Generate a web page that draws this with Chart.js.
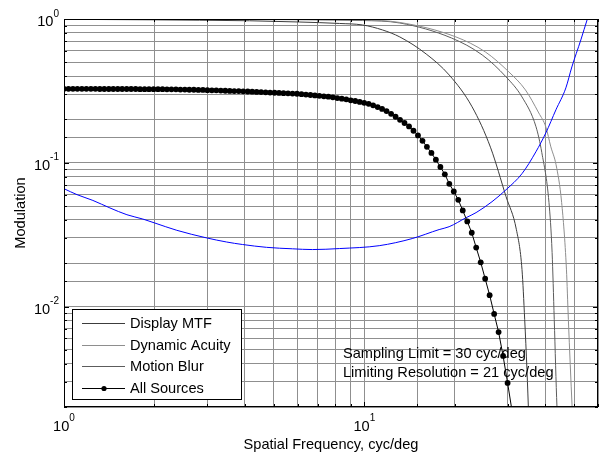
<!DOCTYPE html>
<html>
<head>
<meta charset="utf-8">
<script src="https://cdn.jsdelivr.net/npm/chart.js@4.4.1/dist/chart.umd.min.js"></script>
<style>
html, body { margin: 0; padding: 0; background: #fff; }
</style>
</head>
<body>
<canvas id="chart" width="604" height="454"></canvas>
<script>
// spatial frequencies (cyc/deg) and modulation
const allFreq = [1.000, 1.035, 1.071, 1.108, 1.147, 1.187, 1.229, 1.272, 1.316, 1.362,
  1.410, 1.459, 1.510, 1.562, 1.617, 1.673, 1.732, 1.792, 1.855, 1.919,
  1.987, 2.056, 2.128, 2.202, 2.279, 2.359, 2.441, 2.526, 2.614, 2.706,
  2.802, 2.901, 3.002, 3.107, 3.215, 3.328, 3.444, 3.564, 3.689, 3.818,
  3.952, 4.090, 4.233, 4.380, 4.533, 4.692, 4.855, 5.025, 5.201, 5.382,
  5.572, 5.767, 5.968, 6.177, 6.392, 6.616, 6.847, 7.086, 7.334, 7.590,
  7.856, 8.131, 8.415, 8.709, 9.013, 9.328, 9.654, 9.991, 10.34, 10.70,
  11.08, 11.46, 11.86, 12.28, 12.71, 13.15, 13.61, 14.09, 14.58, 15.09,
  15.62, 16.16, 16.73, 17.31, 17.92, 18.54, 19.19, 19.86, 20.55, 21.27,
  22.02, 22.79, 23.58, 24.41, 25.26, 26.14, 27.06, 28.00, 28.98, 30.00, 31.05];
const allSources = [0.327, 0.327, 0.327, 0.327, 0.327, 0.327, 0.327, 0.327, 0.326, 0.326,
  0.326, 0.326, 0.326, 0.326, 0.326, 0.326, 0.326, 0.325, 0.325, 0.325,
  0.325, 0.325, 0.325, 0.324, 0.324, 0.324, 0.323, 0.323, 0.322, 0.322,
  0.321, 0.321, 0.320, 0.319, 0.319, 0.318, 0.317, 0.316, 0.315, 0.315,
  0.314, 0.313, 0.312, 0.311, 0.310, 0.309, 0.308, 0.307, 0.306, 0.305,
  0.304, 0.303, 0.302, 0.300, 0.298, 0.296, 0.294, 0.292, 0.290, 0.288,
  0.285, 0.282, 0.279, 0.276, 0.272, 0.269, 0.265, 0.261, 0.257, 0.251,
  0.244, 0.237, 0.229, 0.219, 0.209, 0.199, 0.189, 0.179, 0.167, 0.155,
  0.142, 0.129, 0.117, 0.105, 0.0934, 0.0831, 0.0714, 0.0631, 0.0552, 0.0466,
  0.0391, 0.0326, 0.0257, 0.0203, 0.0156, 0.0120, 0.00888, 0.00664, 0.00453, 0.00294, 0.00187];

const displayFreq = [1, 1.99, 2.83, 4.15, 6.08, 8.26, 9.86, 11.5, 13.13, 16.07, 19.17, 22.85, 26.35, 29.64, 32.1, 33.5, 34.2, 34.8, 35.3];
const displayMtf = [0.995, 0.987, 0.981, 0.972, 0.953, 0.931, 0.909, 0.839, 0.750, 0.571, 0.408, 0.245, 0.127, 0.0582, 0.0342, 0.0181, 0.00815, 0.00364, 0.00164];

const acuityFreq = [1, 9.86, 13.13, 20.2, 25.3, 30.3, 34.4, 38.1, 40.2, 41.8, 43.5, 45.4, 47.1, 47.8, 49.2, 49.8];
const dynamicAcuity = [0.999, 0.984, 0.946, 0.750, 0.590, 0.428, 0.321, 0.222, 0.178, 0.129, 0.0969, 0.0530, 0.0182, 0.00815, 0.0020, 0.0012];

const blurFreq = [1, 4.15, 9.86, 13.13, 19.5, 24.7, 29.64, 33.5, 37.3, 39.0, 41.2, 42.2, 42.9, 43.8, 44.4];
const motionBlur = [0.999, 0.992, 0.976, 0.938, 0.738, 0.562, 0.396, 0.287, 0.178, 0.1176, 0.0529, 0.0238, 0.00814, 0.00201, 0.0012];

const thresholdFreq = [1.0, 1.105, 1.248, 1.422, 1.620, 1.830, 2.006, 2.374, 2.987, 3.479, 3.932, 4.726, 5.765, 6.718, 8.258, 11.21,
  14.44, 17.75, 19.16, 21.83, 23.56, 26.62, 29.64, 33.49, 37.27, 40.24, 43.45, 46.90, 49.1, 52.6, 55.3, 58.1];
const threshold = [0.0660, 0.0600, 0.0547, 0.0485, 0.0435, 0.0406, 0.0381, 0.0339, 0.0300, 0.0281, 0.0270, 0.0258, 0.0252, 0.0249, 0.0253, 0.0265,
  0.0297, 0.0343, 0.0359, 0.0415, 0.0450, 0.0536, 0.0649, 0.0839, 0.1192, 0.1616, 0.2334, 0.3318, 0.464, 0.715, 1.0, 1.35];

const xDecades = [1, 10];
const yDecades = [1, 0.1, 0.01];
const notes = ['Sampling Limit = 30 cyc/deg', 'Limiting Resolution = 21 cyc/deg'];

const FONT = '"Liberation Sans", Arial, sans-serif';
const COL_DISPLAY = '#3c3c3c';
const COL_ACUITY = '#8e8e8e';
const COL_BLUR = '#5c5c5c';

function pts(xs, ys) {
  return xs.map((x, i) => ({ x: x, y: ys[i] }));
}

function expOf(v) {
  return String(Math.round(Math.log10(v)));
}

const matlabBits = {
  id: 'matlabBits',
  afterDatasetsDraw(chart) {
    const ctx = chart.ctx;
    const a = chart.chartArea;
    const xs = chart.scales.x;
    const ys = chart.scales.y;
    ctx.save();

    // notes
    ctx.fillStyle = '#000';
    ctx.font = '14.6px ' + FONT;
    ctx.textAlign = 'left';
    ctx.textBaseline = 'alphabetic';
    ctx.fillText(notes[0], 343, 358);
    ctx.fillText(notes[1], 343, 377);

    // box and inward ticks
    ctx.strokeStyle = '#000';
    ctx.lineWidth = 1;
    ctx.strokeRect(a.left + 0.5, a.top + 0.5, a.right - a.left - 1, a.bottom - a.top - 1);
    ctx.beginPath();
    xs.ticks.forEach(t => {
      const p = Math.round(xs.getPixelForValue(t.value)) + 0.5;
      const len = xDecades.includes(t.value) ? 5 : 3;
      ctx.moveTo(p, a.bottom); ctx.lineTo(p, a.bottom - len);
      ctx.moveTo(p, a.top); ctx.lineTo(p, a.top + len);
    });
    ys.ticks.forEach(t => {
      const p = Math.round(ys.getPixelForValue(t.value)) + 0.5;
      const len = yDecades.some(d => Math.abs(d - t.value) < 1e-9) ? 5 : 3;
      ctx.moveTo(a.left, p); ctx.lineTo(a.left + len, p);
      ctx.moveTo(a.right, p); ctx.lineTo(a.right - len, p);
    });
    ctx.stroke();

    // tick labels 10^n
    xDecades.forEach(v => {
      const p = xs.getPixelForValue(v);
      ctx.font = '14.6px ' + FONT;
      const w10 = ctx.measureText('10').width;
      ctx.font = '10px ' + FONT;
      const e = expOf(v);
      const we = ctx.measureText(e).width;
      const start = p - (w10 + we) / 2;
      ctx.textAlign = 'left';
      ctx.font = '14.6px ' + FONT;
      ctx.fillText('10', start, 431);
      ctx.font = '10px ' + FONT;
      ctx.fillText(e, start + w10, 421);
    });
    yDecades.forEach(v => {
      const p = ys.getPixelForValue(v);
      ctx.font = '14.6px ' + FONT;
      const w10 = ctx.measureText('10').width;
      ctx.font = '10px ' + FONT;
      const e = expOf(v);
      const we = ctx.measureText(e).width;
      const start = 59 - (w10 + we);
      ctx.textAlign = 'left';
      ctx.font = '14.6px ' + FONT;
      ctx.fillText('10', start, p + 7);
      ctx.font = '10px ' + FONT;
      ctx.fillText(e, start + w10, p - 2.5);
    });

    // axis titles
    ctx.font = '14.6px ' + FONT;
    ctx.textAlign = 'center';
    ctx.fillText('Spatial Frequency, cyc/deg', (a.left + a.right) / 2, 449);
    ctx.save();
    ctx.translate(25, (a.top + a.bottom) / 2);
    ctx.rotate(-Math.PI / 2);
    ctx.fillText('Modulation', 0, 0);
    ctx.restore();

    // legend
    const lx = 72, ly = 309, lw = 169, lh = 90;
    ctx.fillStyle = '#fff';
    ctx.fillRect(lx, ly, lw, lh);
    ctx.strokeStyle = '#000';
    ctx.strokeRect(lx + 0.5, ly + 0.5, lw, lh);
    const rows = chart.data.datasets.filter(d => d.inLegend).sort((p, q) => p.legendRow - q.legendRow);
    rows.forEach((d, i) => {
      const y = ly + 14 + i * 21.6;
      ctx.strokeStyle = d.borderColor;
      ctx.lineWidth = 1;
      ctx.beginPath();
      ctx.moveTo(82, Math.round(y) + 0.5);
      ctx.lineTo(125, Math.round(y) + 0.5);
      ctx.stroke();
      if (d.pointRadius > 0) {
        ctx.fillStyle = d.pointBackgroundColor;
        ctx.beginPath();
        ctx.arc(104, Math.round(y) + 0.5, 2.6, 0, Math.PI * 2);
        ctx.fill();
      }
      ctx.fillStyle = '#000';
      ctx.font = '14.6px ' + FONT;
      ctx.textAlign = 'left';
      ctx.textBaseline = 'middle';
      ctx.fillText(d.label, 130, y + 1);
    });
    ctx.restore();
  }
};

new Chart(document.getElementById('chart'), {
  type: 'scatter',
  data: {
    datasets: [
      {
        label: 'All Sources', data: pts(allFreq, allSources), showLine: true,
        borderColor: '#000', borderWidth: 1, pointRadius: 2.9, pointBackgroundColor: '#000',
        pointBorderWidth: 0, clip: 0, inLegend: true, legendRow: 3
      },
      {
        label: 'Threshold', data: pts(thresholdFreq, threshold), showLine: true,
        borderColor: '#0000ff', borderWidth: 1, pointRadius: 0, cubicInterpolationMode: 'monotone', clip: 0
      },
      {
        label: 'Display MTF', data: pts(displayFreq, displayMtf), showLine: true,
        borderColor: COL_DISPLAY, borderWidth: 1, pointRadius: 0, cubicInterpolationMode: 'monotone', clip: 0,
        inLegend: true, legendRow: 0
      },
      {
        label: 'Dynamic Acuity', data: pts(acuityFreq, dynamicAcuity), showLine: true,
        borderColor: COL_ACUITY, borderWidth: 1, pointRadius: 0, cubicInterpolationMode: 'monotone', clip: 0,
        inLegend: true, legendRow: 1
      },
      {
        label: 'Motion Blur', data: pts(blurFreq, motionBlur), showLine: true,
        borderColor: COL_BLUR, borderWidth: 1, pointRadius: 0, cubicInterpolationMode: 'monotone', clip: 0,
        inLegend: true, legendRow: 2
      }
    ]
  },
  options: {
    responsive: false,
    animation: false,
    devicePixelRatio: 1,
    events: [],
    layout: { padding: { left: 64, top: 19, right: 6, bottom: 47 } },
    plugins: { legend: { display: false }, tooltip: { enabled: false } },
    scales: {
      x: {
        type: 'logarithmic', min: 1, max: 60,
        ticks: { display: false },
        border: { display: false },
        grid: { color: '#8f8f8f', lineWidth: 1, drawTicks: false }
      },
      y: {
        type: 'logarithmic', min: 0.002, max: 1,
        ticks: { display: false },
        border: { display: false },
        grid: { color: '#8f8f8f', lineWidth: 1, drawTicks: false }
      }
    }
  },
  plugins: [matlabBits]
});
</script>
</body>
</html>
